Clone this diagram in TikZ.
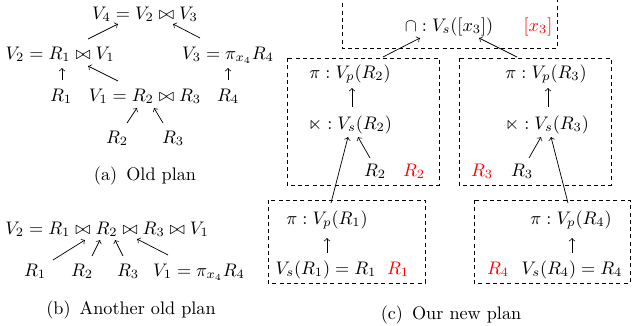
\documentclass[tikz,border=0pt]{standalone}
\usepackage{amssymb}
\usetikzlibrary{calc}
\begin{document}
\begin{tikzpicture}[x=0.55pt,y=-0.55pt,
  lbl/.style={inner sep=0pt,text height=6.8pt,text depth=0pt,font=\normalsize},
  rlbl/.style={lbl,text=red},
  arr/.style={->,line width=0.4pt},
  dbox/.style={draw,line width=0.5pt,dash pattern=on 2.2pt off 1.8pt}]
\useasboundingbox (0,0) rectangle (638,326);
% (a)
\node[lbl] (a4v) at (145,13) {$V_4 = V_2 \bowtie V_3$};
\node[lbl] (a2v) at (60,53) {$V_2 = R_1 \bowtie V_1$};
\node[lbl] (a3v) at (228,53) {$V_3 = \pi_{x_4} R_4$};
\node[lbl] (a1r) at (61,95) {$R_1$};
\node[lbl] (a1v) at (145,95) {$V_1 = R_2 \bowtie R_3$};
\node[lbl] (a4r) at (228,95) {$R_4$};
\node[lbl] (a2r) at (117,137) {$R_2$};
\node[lbl] (a3r) at (173,137) {$R_3$};
\node[lbl] (capa) at (145,174) {(a)\enspace Old plan};
\draw[arr] ($(a2v)+(28,-14)$) -- ($(a4v)+(-27,11)$);
\draw[arr] ($(a3v)+(-28,-15)$) -- ($(a4v)+(28,11)$);
\draw[arr] ($(a1r)+(1,-15)$) -- ($(a2v)+(2,15)$);
\draw[arr] ($(a1v)+(-27,-14)$) -- ($(a2v)+(28,13)$);
\draw[arr] ($(a4r)+(0,-15)$) -- ($(a3v)+(0,15)$);
\draw[arr] ($(a2r)+(10,-14)$) -- ($(a1v)+(-8,13)$);
\draw[arr] ($(a3r)+(-10,-14)$) -- ($(a1v)+(9,13)$);
% (b)
\node[lbl] (b2v) at (107,228) {$V_2 = R_1 \bowtie R_2 \bowtie R_3 \bowtie V_1$};
\node[lbl] (b1r) at (35,270) {$R_1$};
\node[lbl] (b2r) at (82,270) {$R_2$};
\node[lbl] (b3r) at (128,270) {$R_3$};
\node[lbl] (b1v) at (199,270) {$V_1 = \pi_{x_4} R_4$};
\node[lbl] (capb) at (131,308) {(b)\enspace Another old plan};
\draw[arr] ($(b1r)+(18,-10)$) -- ($(b2v)+(-22,12)$);
\draw[arr] ($(b2r)+(10,-14)$) -- ($(b2v)+(-7,12)$);
\draw[arr] ($(b3r)+(-5,-14)$) -- ($(b2v)+(8,12)$);
\draw[arr] ($(b1v)+(-31,-15)$) -- ($(b2v)+(30,11)$);
% (c) boxes
\draw[dbox] (342,-4) -- (342,48) -- (557,48) -- (557,-4);
\draw[dbox] (287,58) rectangle (439,185);
\draw[dbox] (459,58) rectangle (611,185);
\draw[dbox] (268,200) rectangle (425,283);
\draw[dbox] (474,200) rectangle (630,283);
% (c) labels
\node[lbl] (ccap) at (449,25) {$\cap : V_s([x_3])$};
\node[rlbl] (cx3) at (538,25) {$[x_3]$};
\node[lbl] (cpi2) at (350,72) {$\pi : V_p(R_2)$};
\node[lbl] (clt2) at (350,123) {$\ltimes : V_s(R_2)$};
\node[lbl] (cr2) at (375,170) {$R_2$};
\node[rlbl] (cr2r) at (414,170) {$R_2$};
\node[lbl] (cpi3) at (546,72) {$\pi : V_p(R_3)$};
\node[lbl] (clt3) at (547,123) {$\ltimes : V_s(R_3)$};
\node[rlbl] (cr3r) at (482,170) {$R_3$};
\node[lbl] (cr3) at (522,170) {$R_3$};
\node[lbl] (cpi1) at (327,218) {$\pi : V_p(R_1)$};
\node[lbl] (cvs1) at (326,268) {$V_s(R_1) = R_1$};
\node[rlbl] (cr1r) at (398,268) {$R_1$};
\node[lbl] (cpi4) at (571,218) {$\pi : V_p(R_4)$};
\node[rlbl] (cr4r) at (498,268) {$R_4$};
\node[lbl] (cvs4) at (572,268) {$V_s(R_4) = R_4$};
\node[lbl] (capc) at (451,313) {(c)\enspace Our new plan};
% (c) arrows
\draw[arr] ($(cpi2)+(33,-15)$) -- ($(ccap)+(-29,13)$);
\draw[arr] ($(cpi3)+(-29,-15)$) -- ($(ccap)+(30,13)$);
\draw[arr] ($(clt2)+(2,-16)$) -- ($(cpi2)+(2,16)$);
\draw[arr] ($(clt3)+(1,-16)$) -- ($(cpi3)+(2,16)$);
\draw[arr] ($(cr2)+(-5,-12)$) -- ($(clt2)+(8,14)$);
\draw[arr] ($(cpi1)+(4,-15)$) -- ($(clt2)+(-2,14)$);
\draw[arr] ($(cr3)+(7,-12)$) -- ($(clt3)+(-6,14)$);
\draw[arr] ($(cpi4)+(-3,-15)$) -- ($(clt3)+(4,14)$);
\draw[arr] ($(cvs1)+(1,-15)$) -- ($(cpi1)+(0,20)$);
\draw[arr] ($(cvs4)+(0,-15)$) -- ($(cpi4)+(1,20)$);
\end{tikzpicture}
\end{document}
